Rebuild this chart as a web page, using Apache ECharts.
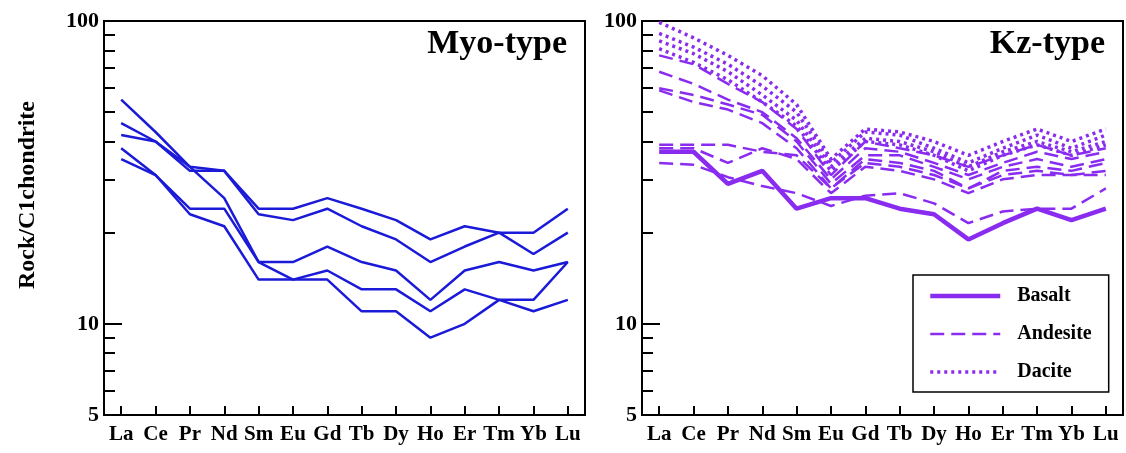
<!DOCTYPE html>
<html><head><meta charset="utf-8">
<script src="https://cdn.jsdelivr.net/npm/echarts@6/dist/echarts.min.js"></script>
<style>html,body{margin:0;padding:0;background:#fff}#c{width:1126px;height:453px}</style>
</head><body><div id="c"></div>
<script>
// ---- data ----
const elements = ['La','Ce','Pr','Nd','Sm','Eu','Gd','Tb','Dy','Ho','Er','Tm','Yb','Lu'];
const yTickLabels = [5, 10, 100];
const yMajorTicks = [10, 100];
const yMinorTicks = [6, 7, 8, 9, 20, 30, 40, 50, 60, 70, 80, 90];

// Myo-type samples
const myo1 = [55, 43, 33, 26, 16, 14, 15, 13, 13, 11, 13, 12, 11, 12];
const myo2 = [46, 40, 33, 32, 24, 24, 26, 24, 22, 19, 21, 20, 20, 24];
const myo3 = [42, 40, 32, 32, 23, 22, 24, 21, 19, 16, 18, 20, 17, 20];
const myo4 = [38, 31, 24, 24, 16, 16, 18, 16, 15, 12, 15, 16, 15, 16];
const myo5 = [35, 31, 23, 21, 14, 14, 14, 11, 11, 9, 10, 12, 12, 16];

// Kz-type samples
const basalt1 = [37, 37, 29, 32, 24, 26, 26, 24, 23, 19, 21.5, 24, 22, 24];
const andesite1 = [77, 72, 62, 54, 44, 31, 40, 38, 36, 33, 36, 39, 36, 38];
const andesite2 = [68, 62, 55, 50, 41, 30, 38, 37, 34, 31, 34, 37, 35, 37];
const andesite3 = [60, 57, 53, 49, 40, 29, 36, 36, 33, 30, 33, 35, 33, 35];
const andesite4 = [59, 54, 51, 46, 38, 28, 35, 34, 32, 28, 32, 33, 32, 34];
const andesite5 = [39, 39, 39, 37, 36, 28, 34, 33, 31, 28, 31, 32, 31, 32];
const andesite6 = [38, 38, 34, 38, 35, 27, 33, 32, 30, 27, 30, 31, 31, 31];
const andesite7 = [34, 33.5, 30.5, 28.5, 27, 24.5, 26.5, 27, 25, 21.5, 23.5, 24, 24, 28];
const dacite1 = [99, 88, 77, 66, 53, 35, 44, 43, 40, 36, 40, 44, 40, 44];
const dacite2 = [91, 82, 72, 61, 50, 34, 43, 42, 38, 34, 38, 42, 38, 42];
const dacite3 = [86, 78, 68, 57, 47, 33, 41, 40, 37, 33, 37, 40, 37, 40];
const dacite4 = [81, 73, 64, 54, 45, 32, 40, 39, 36, 32, 36, 39, 36, 39];

// ---- styling ----
const BLUE = '#1a1ad8';
const PURPLE = '#8a2cf0';
const FONT = '"Liberation Serif","Times New Roman",serif';
const LOG_MIN = Math.log10(5), LOG_MAX = 2;

const grids = [
  {left: 104, right: 541, top: 21, bottom: 38, show: true, borderColor: '#000', borderWidth: 2, backgroundColor: '#fff'},
  {left: 642, right: 3, top: 21, bottom: 38, show: true, borderColor: '#000', borderWidth: 2, backgroundColor: '#fff'}
];

function xAxisFor(i) {
  return {
    type: 'category', gridIndex: i, data: elements, boundaryGap: true,
    axisLine: {show: true, lineStyle: {color: '#000', width: 2}},
    axisTick: {show: true, inside: true, alignWithLabel: true, interval: 0, length: 9, lineStyle: {color: '#000', width: 2}},
    axisLabel: {interval: 0, color: '#000', fontFamily: FONT, fontWeight: 'bold', fontSize: 21, margin: 9},
    splitLine: {show: false}
  };
}
function yAxesFor(i) {
  return [
    {type: 'log', logBase: 10, gridIndex: i, position: 'left', min: 5, max: 100,
     axisLine: {show: false}, axisTick: {show: false}, axisLabel: {show: false}, splitLine: {show: false}},
    {type: 'value', gridIndex: i, position: 'left', min: LOG_MIN, max: LOG_MAX,
     axisLine: {show: false}, splitLine: {show: false},
     axisTick: {show: true, inside: true, length: 18, customValues: yMajorTicks.map(Math.log10), lineStyle: {color: '#000', width: 2}},
     axisLabel: {show: true, customValues: yTickLabels.map(Math.log10), formatter: v => String(Math.round(Math.pow(10, v))),
       color: '#000', fontFamily: FONT, fontWeight: 'bold', fontSize: 22, margin: 5}},
    {type: 'value', gridIndex: i, position: 'left', min: LOG_MIN, max: LOG_MAX,
     axisLine: {show: false}, splitLine: {show: false}, axisLabel: {show: false},
     axisTick: {show: true, inside: true, length: 11, customValues: yMinorTicks.map(Math.log10), lineStyle: {color: '#000', width: 2}}}
  ];
}

const series = [];
[myo1, myo2, myo3, myo4, myo5].forEach((d, k) => series.push({
  type: 'line', name: 'Myo-' + (k + 1), xAxisIndex: 0, yAxisIndex: 0, data: d,
  symbol: 'none', silent: true, lineStyle: {color: BLUE, width: 2.5}, itemStyle: {color: BLUE}
}));
[basalt1].forEach(d => series.push({
  type: 'line', name: 'Basalt', xAxisIndex: 1, yAxisIndex: 3, data: d,
  symbol: 'none', silent: true, lineStyle: {color: PURPLE, width: 4.5}, itemStyle: {color: PURPLE}
}));
[andesite1, andesite2, andesite3, andesite4, andesite5, andesite6, andesite7].forEach(d => series.push({
  type: 'line', name: 'Andesite', xAxisIndex: 1, yAxisIndex: 3, data: d,
  symbol: 'none', silent: true, lineStyle: {color: PURPLE, width: 2.5, type: [14, 7]}, itemStyle: {color: PURPLE}
}));
[dacite1, dacite2, dacite3, dacite4].forEach(d => series.push({
  type: 'line', name: 'Dacite', xAxisIndex: 1, yAxisIndex: 3, data: d,
  symbol: 'none', silent: true, lineStyle: {color: PURPLE, width: 3.5, type: [3, 4]}, itemStyle: {color: PURPLE}
}));

const chart = echarts.init(document.getElementById('c'), null, {renderer: 'canvas'});
chart.setOption({
  animation: false,
  backgroundColor: '#fff',
  grid: grids,
  xAxis: [xAxisFor(0), xAxisFor(1)],
  yAxis: [...yAxesFor(0), ...yAxesFor(1)],
  title: [
    {text: 'Myo-type', right: 559, top: 27, padding: 0, textStyle: {fontFamily: FONT, fontWeight: 'bold', fontSize: 34, color: '#000'}},
    {text: 'Kz-type', right: 21, top: 27, padding: 0, textStyle: {fontFamily: FONT, fontWeight: 'bold', fontSize: 34, color: '#000'}}
  ],
  legend: {
    data: ['Basalt', 'Andesite', 'Dacite'], orient: 'vertical', left: 913, top: 275,
    itemWidth: 70, itemHeight: 14, itemGap: 18, padding: [11, 17, 10, 15],
    borderColor: '#000', borderWidth: 1.5, backgroundColor: '#fff', selectedMode: false,
    itemStyle: {color: 'rgba(0,0,0,0)', borderColor: 'rgba(0,0,0,0)', borderWidth: 0, opacity: 0},
    lineStyle: {width: 'inherit', type: 'inherit', color: 'inherit'},
    textStyle: {fontFamily: FONT, fontWeight: 'bold', fontSize: 20, color: '#000', padding: [0, 0, 0, 12]}
  },
  graphic: [{
    type: 'text', x: 28, y: 195, rotation: Math.PI / 2,
    style: {text: 'Rock/C1chondrite', fontFamily: FONT, fontWeight: 'bold', fontSize: 24, fill: '#000', align: 'center', verticalAlign: 'middle'}
  }],
  series: series
});
</script>
</body></html>
